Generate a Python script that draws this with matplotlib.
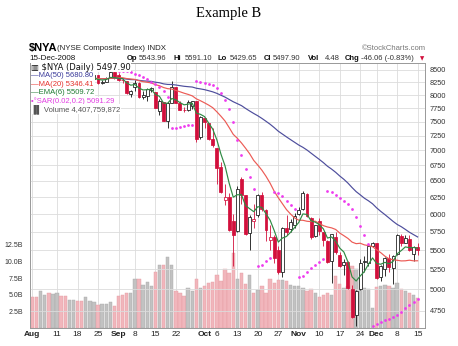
"""$NYA daily candles (Aug - Dec 2008) with MA50/MA20/EMA6, parabolic SAR and volume."""

import numpy as np
import pandas as pd
import matplotlib

matplotlib.use("Agg")
import matplotlib.pyplot as plt
from matplotlib.patches import Rectangle
from matplotlib.ticker import NullLocator

plt.rcParams["font.family"] = ["Liberation Sans", "DejaVu Sans"]

# ---- data (one value per trading day Aug 1 .. Dec 15 2008) ----
holidays = ["2008-09-01", "2008-11-27"]

opens = [
    8260, 8190, 8125, 8350, 8375, 8235, 8430, 8480, 8380, 8350, 8400,
    8440, 8310, 8240, 8280, 8310, 8395, 8235, 8260, 8330, 8450,
    8400, 8300, 8280, 8030, 8150, 8235, 7970, 7990, 8100,
    8050, 7700, 7870, 7520, 7850, 8150, 7850, 7725, 7710, 7800, 7880, 7230,
    7560, 7470, 7200, 7040, 6720, 6200, 6260, 5900,
    5760, 6530, 6280, 5730, 5900, 5990, 6290, 6060, 5640, 5680,
    5500, 5220, 5800, 5780, 5850,
    6000, 6070, 6300, 5950, 5690, 5900, 5740, 5620, 5350, 5680,
    5440, 5300, 5340, 5000, 4700, 5000, 5340, 5330, 5550,
    5590, 5150, 5250, 5390, 5270, 5450, 5690, 5600, 5650, 5450, 5543.96,
]
highs = [
    8290, 8215, 8365, 8420, 8390, 8440, 8540, 8500, 8400, 8430, 8470,
    8460, 8330, 8300, 8320, 8420, 8400, 8290, 8360, 8470, 8455,
    8440, 8330, 8285, 8090, 8300, 8250, 8070, 8130, 8160,
    8060, 7920, 7870, 7870, 8280, 8160, 7880, 7770, 7900, 7895, 7880, 7610,
    7570, 7480, 7380, 7040, 6800, 6450, 6320, 6000,
    6420, 6560, 6290, 5990, 6150, 6300, 6330, 6070, 5850, 5700,
    5560, 5820, 5980, 5930, 6010,
    6100, 6350, 6310, 5960, 5850, 5940, 5750, 5630, 5720, 5740,
    5470, 5380, 5360, 5050, 4990, 5380, 5420, 5560, 5610,
    5600, 5300, 5410, 5450, 5440, 5720, 5720, 5700, 5700, 5560, 5591.10,
]
lows = [
    8130, 8090, 8120, 8320, 8215, 8200, 8410, 8370, 8300, 8320, 8380,
    8290, 8210, 8220, 8250, 8300, 8220, 8220, 8250, 8330, 8320,
    8280, 8240, 8030, 7960, 8080, 7950, 7930, 7880, 8060,
    7750, 7620, 7510, 7380, 7840, 7840, 7710, 7670, 7700, 7740, 7150, 7200,
    7380, 7170, 7060, 6450, 6310, 6130, 5760, 5290,
    5740, 6150, 5700, 5500, 5800, 5960, 6040, 5620, 5500, 5330,
    5190, 5150, 5700, 5750, 5800,
    5980, 6060, 5960, 5650, 5680, 5700, 5560, 5330, 5080, 5450,
    5280, 5180, 5000, 4670, 4580, 4990, 5220, 5290, 5540,
    5130, 5100, 5170, 5220, 5070, 5440, 5560, 5590, 5490, 5350, 5429.65,
]
closes = [
    8192, 8119, 8352, 8380, 8230, 8426, 8484, 8382, 8358, 8404, 8438,
    8311, 8234, 8284, 8305, 8399, 8234, 8265, 8331, 8455, 8338,
    8304, 8288, 8039, 8075, 8241, 7959, 8008, 8119, 8136,
    7753, 7888, 7517, 7842, 8158, 7846, 7723, 7708, 7860, 7886, 7192, 7582,
    7489, 7187, 7090, 6711, 6326, 6254, 5778, 5710,
    6380, 6287, 5719, 5962, 5926, 6290, 6070, 5770, 5680, 5400,
    5210, 5800, 5739, 5887, 5977,
    6059, 6306, 5974, 5674, 5837, 5763, 5637, 5344, 5714, 5476,
    5292, 5344, 5017, 4680, 4976, 5324, 5359, 5548, 5601,
    5142, 5290, 5400, 5280, 5420, 5700, 5599, 5665, 5504, 5542, 5497.90,
]
# volume in billions of shares
volumes = [
    4.7, 4.6, 5.6, 5.0, 5.3, 5.1, 5.2, 4.8, 4.8, 4.2, 4.2,
    4.0, 4.1, 4.6, 4.1, 3.9, 3.5, 3.6, 3.6, 3.9, 3.3,
    4.8, 5.0, 5.3, 5.2, 7.4, 7.3, 6.5, 6.9, 6.3,
    8.4, 9.5, 9.5, 10.6, 9.4, 5.5, 5.3, 4.8, 6.0, 5.5, 7.4, 6.0,
    6.3, 6.7, 6.9, 8.0, 7.0, 8.8, 8.3, 11.3,
    7.4, 8.2, 6.6, 8.0, 5.3, 5.7, 6.3, 5.3, 7.3, 6.7,
    7.2, 7.2, 7.1, 6.4, 6.3,
    6.3, 6.0, 5.5, 5.8, 5.3, 4.7, 4.9, 5.3, 5.0, 7.8,
    6.6, 6.0, 6.3, 9.3, 8.8, 7.6, 6.0, 5.8, 3.0,
    6.1, 6.3, 6.4, 6.3, 6.0, 6.7, 5.8, 5.5, 5.3, 5.0, 4.48,
]

tick_dates = [
    "2008-08-01", "2008-08-11", "2008-08-18", "2008-08-25", "2008-09-02",
    "2008-09-08", "2008-09-15", "2008-09-22", "2008-10-01", "2008-10-06",
    "2008-10-13", "2008-10-20", "2008-10-27", "2008-11-03", "2008-11-10",
    "2008-11-17", "2008-11-24", "2008-12-01", "2008-12-08", "2008-12-15",
]
tick_labels = ["Aug", "11", "18", "25", "Sep", "8", "15", "22", "Oct", "6",
               "13", "20", "27", "Nov", "10", "17", "24", "Dec", "8", "15"]
month_labels = {"Aug", "Sep", "Oct", "Nov", "Dec"}
price_ticks = [4750, 5000, 5250, 5500, 5750, 6000, 6250, 6500, 6750,
               7000, 7250, 7500, 7750, 8000, 8250, 8500]
vol_ticks = [2.5, 5.0, 7.5, 10.0, 12.5]


def parabolic_sar(high, low, step=0.02, cap=0.2):
    sar = np.zeros(len(high))
    up = True
    af = step
    ep = high[0]
    sar[0] = low[0]
    for i in range(1, len(high)):
        s = sar[i - 1] + af * (ep - sar[i - 1])
        if up:
            s = min(s, low[i - 1], low[max(i - 2, 0)])
            if low[i] < s:
                up, s, ep, af = False, ep, low[i], step
            elif high[i] > ep:
                ep, af = high[i], min(af + step, cap)
        else:
            s = max(s, high[i - 1], high[max(i - 2, 0)])
            if high[i] > s:
                up, s, ep, af = True, ep, high[i], step
            elif low[i] < ep:
                ep, af = low[i], min(af + step, cap)
        sar[i] = s
    return sar


def main():
    dates = pd.bdate_range("2008-08-01", "2008-12-15")
    dates = dates[~dates.isin(pd.to_datetime(holidays))]
    x = np.arange(len(dates))
    o, h, l, c = (np.array(a, dtype=float) for a in (opens, highs, lows, closes))
    vol = np.array(volumes)
    prev = np.r_[o[0], c[:-1]]
    down = c < prev

    cs = pd.Series(c)
    ma50 = cs.rolling(50, min_periods=1).mean()
    ma20 = cs.rolling(20, min_periods=1).mean()
    ema6 = cs.ewm(span=6, adjust=False).mean()
    sar = parabolic_sar(h, l)

    W, H = 458, 346
    fig = plt.figure(figsize=(W / 100, H / 100), dpi=100)

    def px(xp, yp):
        return xp / W, 1 - yp / H

    left, right, top, bottom = 30, 425, 63, 328
    ax_vol = fig.add_axes([left / W, 1 - bottom / H, (right - left) / W, (bottom - top) / H])
    ax = ax_vol.twinx()

    # volume
    vcol = np.where(down, "#f1b6bc", "#c2c2c2")
    vedge = np.where(down, "#e59aa2", "#a9a9a9")
    ax_vol.bar(x, vol, width=0.82, color=vcol, edgecolor=vedge, linewidth=0.3, zorder=2)
    ax_vol.set_ylim(0, 39.8)
    ax_vol.set_yticks(vol_ticks, [f"{v:.1f}B" for v in vol_ticks])
    ax_vol.set_xlim(-0.6, 95.8)

    tick_pos = [dates.get_loc(pd.Timestamp(d)) for d in tick_dates]
    ax_vol.set_xticks(tick_pos, tick_labels)
    ax_vol.set_xticks([dates.get_loc(pd.Timestamp("2008-09-29"))], minor=True)
    for t in ax_vol.get_xticklabels():
        if t.get_text() in month_labels:
            t.set_fontweight("bold")
    ax_vol.grid(axis="x", which="both", color="#dcdcdc", linewidth=0.6, zorder=0)
    ax_vol.tick_params(axis="x", which="both", length=0, pad=2.5, labelsize=6, labelcolor="#222222")
    ax_vol.tick_params(axis="y", length=0, pad=5, labelsize=5, labelcolor="#333333")

    # price
    ax.set_yscale("log")
    ax.set_ylim(4555, 8645)
    ax.yaxis.set_minor_locator(NullLocator())
    ax.set_yticks(price_ticks, [str(p) for p in price_ticks])
    ax.tick_params(axis="y", length=0, pad=3.5, labelsize=5.3, labelcolor="#333333")
    ax.grid(axis="y", color="#dcdcdc", linewidth=0.6, zorder=0)
    ax.set_xlim(-0.6, 95.8)

    red = "#d2103c"
    edge = np.where(down, red, "#111111")
    body_fill = np.where(c < o, np.where(down, red, "#111111"), "white")
    ax.vlines(x, l, h, colors=edge, linewidth=0.6, zorder=3)
    body_h = np.maximum(np.abs(c - o), 8)
    ax.bar(x, body_h, bottom=np.minimum(o, c), width=0.72, color=body_fill,
           edgecolor=edge, linewidth=0.55, zorder=4)

    ax.plot(x, ma50, color="#4d4d9c", linewidth=0.85, zorder=5)
    ax.plot(x, ma20, color="#ec5b55", linewidth=0.85, zorder=5)
    ax.plot(x, ema6, color="#2f8a43", linewidth=0.85, zorder=5)
    ax.plot(x, sar, linestyle="none", marker="o", markersize=2.0,
            markerfacecolor="#ee3cee", markeredgecolor="none", zorder=6)

    for a in (ax, ax_vol):
        for sp in a.spines.values():
            sp.set_color("#999999")
            sp.set_linewidth(0.6)

    # legend block (covers the first weeks, as on the original)
    fig.patches.append(Rectangle(px(30.6, 112.5), 64 / W, 49 / H, transform=fig.transFigure,
                                 facecolor="white", edgecolor="none", zorder=1))
    bb = dict(facecolor="white", edgecolor="none", pad=0.2)
    fig.text(*px(31, 67.5), "\u25a5 $NYA (Daily) 5497.90", fontsize=6, family="DejaVu Sans",
             color="#111111", va="center", bbox=bb)
    legend_rows = [
        ("\u2014MA(50) 5680.80", "#3a3a9a", 75.8),
        ("\u2014MA(20) 5346.41", "#e5322c", 84.2),
        ("\u2014EMA(6) 5509.72", "#1f7a33", 92.6),
        ("\u2022\u00b0SAR(0.02,0.2) 5091.29", "#e23ce2", 101.0),
        ("\u2590\u258c Volume 4,407,759,872", "#555555", 109.3),
    ]
    for s, col, yp in legend_rows:
        fig.text(*px(31, yp), s, fontsize=5.5, color=col, va="center", bbox=bb)

    # header
    fig.text(*px(229, 14), "Example B", fontsize=10.5, family="Liberation Serif",
             ha="center", va="center")
    fig.text(*px(29, 48), "$NYA", fontsize=8, fontweight="bold", va="center")
    fig.text(*px(57, 48.5), "(NYSE Composite Index) INDX", fontsize=5.7, color="#222222", va="center")
    fig.text(*px(29, 58.5), "15-Dec-2008", fontsize=5.8, color="#111111", va="center")
    fig.text(*px(426, 49), "\u00a9StockCharts.com", fontsize=5.5, color="#777777", ha="right", va="center")
    header = [
        (127, "Op", True), (139, "5543.96", False), (174, "Hi", True), (185, "5591.10", False),
        (218, "Lo", True), (230, "5429.65", False), (264, "Cl", True), (273, "5497.90", False),
        (308, "Vol", True), (325, "4.48", False), (345, "Chg", True), (361, "-46.06 (-0.83%)", False),
    ]
    for xp, s, bold in header:
        fig.text(*px(xp, 58.5), s, fontsize=5.5, fontweight="bold" if bold else "normal",
                 color="#111111" if bold else "#333333", va="center")
    fig.text(*px(420, 58.5), "\u25bc", fontsize=4, color=red, va="center", family="DejaVu Sans")

    fig.savefig("out.png", dpi=100)


if __name__ == "__main__":
    main()
